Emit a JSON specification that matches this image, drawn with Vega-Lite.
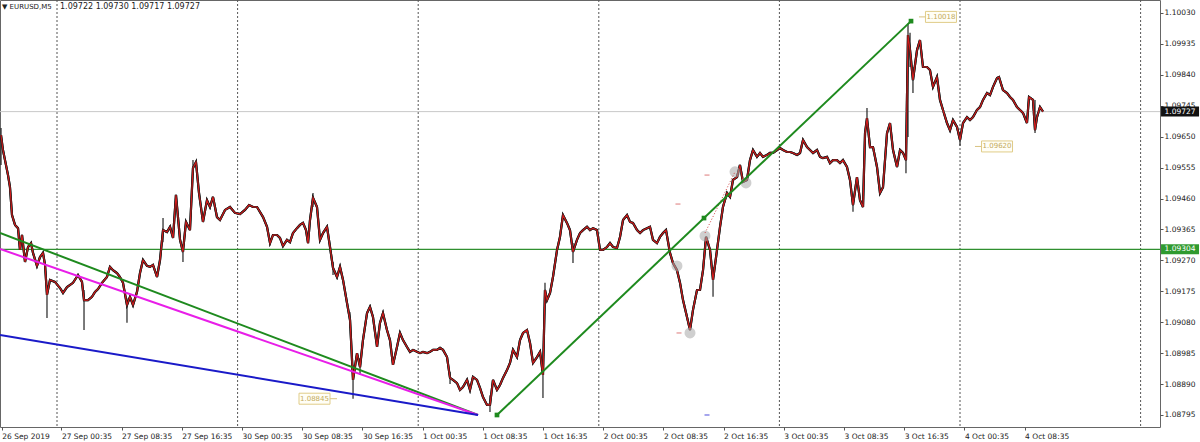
{
 "$schema": "https://vega.github.io/schema/vega-lite/v6.json",
 "width": 1160, "height": 427, "padding": {"left":0,"top":0,"right":40,"bottom":15}, "autosize": "none",
 "background": "white",
 "config": {"view": {"stroke": "#666", "strokeWidth": 1}, "font": "DejaVu Sans", "axis": {"labelOverlap": false, "labelSeparation": 0}, "axisY": {"labelOverlap": false}},
 "resolve": {"scale": {"color": "independent"}},
 "datasets": {
  "px": [
   {"h":16.56,"p":1.09655},{"h":16.82,"p":1.09609},{"h":17.09,"p":1.09578},{"h":17.49,"p":1.09532},{"h":17.75,"p":1.09495},{"h":18.02,"p":1.09409},{"h":18.42,"p":1.09379},{"h":18.82,"p":1.09369},{"h":19.08,"p":1.09302},{"h":19.35,"p":1.09348},{"h":19.75,"p":1.09265},{"h":20.15,"p":1.09311},{"h":20.55,"p":1.09323},{"h":20.81,"p":1.09293},{"h":21.34,"p":1.09253},{"h":21.74,"p":1.0928},{"h":22.14,"p":1.09293},{"h":22.41,"p":1.09256},{"h":22.67,"p":1.09164},{"h":23.07,"p":1.0921},{"h":23.73,"p":1.09204},{"h":24.4,"p":1.09185},{"h":24.8,"p":1.0917},{"h":25.33,"p":1.09188},{"h":26.13,"p":1.09201},{"h":26.79,"p":1.09225},{"h":27.32,"p":1.09204},{"h":27.59,"p":1.09148},{"h":28.12,"p":1.09148},{"h":28.65,"p":1.09158},{"h":29.05,"p":1.09173},{"h":29.45,"p":1.09182},{"h":29.98,"p":1.09201},{"h":30.64,"p":1.09219},{"h":31.04,"p":1.0925},{"h":31.44,"p":1.0924},{"h":31.97,"p":1.09231},{"h":32.37,"p":1.09219},{"h":32.77,"p":1.09201},{"h":33.3,"p":1.09133},{"h":33.7,"p":1.09158},{"h":34.1,"p":1.09133},{"h":34.63,"p":1.09173},{"h":35.03,"p":1.09231},{"h":35.43,"p":1.09271},{"h":35.96,"p":1.09253},{"h":36.36,"p":1.0925},{"h":36.76,"p":1.09256},{"h":37.29,"p":1.09219},{"h":37.69,"p":1.09271},{"h":38.09,"p":1.09363},{"h":38.62,"p":1.09357},{"h":39.02,"p":1.09373},{"h":39.42,"p":1.09339},{"h":39.81,"p":1.09471},{"h":40.35,"p":1.09333},{"h":40.74,"p":1.09296},{"h":41.14,"p":1.09388},{"h":41.67,"p":1.09363},{"h":42.07,"p":1.09554},{"h":42.47,"p":1.09572},{"h":42.87,"p":1.09477},{"h":43.4,"p":1.09388},{"h":43.93,"p":1.09455},{"h":44.33,"p":1.09434},{"h":44.73,"p":1.09465},{"h":45.26,"p":1.09403},{"h":45.66,"p":1.09394},{"h":46.33,"p":1.09425},{"h":46.99,"p":1.09434},{"h":47.65,"p":1.09416},{"h":48.32,"p":1.09412},{"h":48.98,"p":1.09425},{"h":49.52,"p":1.0944},{"h":50.05,"p":1.09434},{"h":50.58,"p":1.09434},{"h":51.38,"p":1.09403},{"h":51.91,"p":1.09373},{"h":52.31,"p":1.09323},{"h":52.7,"p":1.09348},{"h":53.24,"p":1.09348},{"h":53.63,"p":1.09339},{"h":54.03,"p":1.09314},{"h":54.56,"p":1.09333},{"h":54.96,"p":1.09326},{"h":55.36,"p":1.09354},{"h":55.89,"p":1.09369},{"h":56.29,"p":1.09379},{"h":56.69,"p":1.09385},{"h":57.09,"p":1.09363},{"h":57.36,"p":1.09323},{"h":57.62,"p":1.09394},{"h":58.02,"p":1.09462},{"h":58.55,"p":1.09434},{"h":58.95,"p":1.09333},{"h":59.35,"p":1.09354},{"h":59.88,"p":1.09373},{"h":60.28,"p":1.09311},{"h":60.68,"p":1.09247},{"h":61.21,"p":1.09219},{"h":61.61,"p":1.0925},{"h":62.01,"p":1.0921},{"h":62.54,"p":1.09139},{"h":62.94,"p":1.09087},{"h":63.34,"p":1.08903},{"h":63.87,"p":1.08985},{"h":64.27,"p":1.08942},{"h":64.66,"p":1.09025},{"h":65.2,"p":1.09108},{"h":65.59,"p":1.09127},{"h":65.99,"p":1.09096},{"h":66.53,"p":1.09004},{"h":66.92,"p":1.09078},{"h":67.32,"p":1.09108},{"h":67.85,"p":1.09056},{"h":68.25,"p":1.09025},{"h":68.65,"p":1.08949},{"h":69.18,"p":1.09004},{"h":69.58,"p":1.09047},{"h":69.98,"p":1.09025},{"h":70.51,"p":1.09004},{"h":70.91,"p":1.08989},{"h":71.31,"p":1.08995},{"h":71.84,"p":1.08989},{"h":72.24,"p":1.08985},{"h":72.64,"p":1.08989},{"h":73.17,"p":1.08985},{"h":73.57,"p":1.08989},{"h":73.97,"p":1.08995},{"h":74.5,"p":1.08995},{"h":74.9,"p":1.09001},{"h":75.3,"p":1.08995},{"h":75.83,"p":1.08973},{"h":76.23,"p":1.08909},{"h":76.62,"p":1.08903},{"h":77.16,"p":1.08893},{"h":77.55,"p":1.08872},{"h":77.95,"p":1.08881},{"h":78.49,"p":1.08903},{"h":78.88,"p":1.08872},{"h":79.28,"p":1.08912},{"h":79.81,"p":1.08903},{"h":80.21,"p":1.08878},{"h":80.61,"p":1.0885},{"h":81.14,"p":1.08826},{"h":81.54,"p":1.08826},{"h":81.94,"p":1.08903},{"h":82.47,"p":1.08872},{"h":82.87,"p":1.08887},{"h":83.27,"p":1.08909},{"h":83.8,"p":1.08933},{"h":84.2,"p":1.08955},{"h":84.6,"p":1.08995},{"h":85.13,"p":1.08973},{"h":85.53,"p":1.09025},{"h":85.93,"p":1.09047},{"h":86.46,"p":1.09056},{"h":86.86,"p":1.09016},{"h":87.26,"p":1.08955},{"h":87.79,"p":1.08973},{"h":88.19,"p":1.08989},{"h":88.58,"p":1.08918},{"h":88.85,"p":1.09179},{"h":89.12,"p":1.09148},{"h":89.52,"p":1.0917},{"h":89.91,"p":1.09219},{"h":90.45,"p":1.09302},{"h":90.84,"p":1.09342},{"h":91.24,"p":1.09409},{"h":91.77,"p":1.09385},{"h":92.17,"p":1.09363},{"h":92.57,"p":1.09296},{"h":93.1,"p":1.09333},{"h":93.5,"p":1.09354},{"h":93.9,"p":1.09363},{"h":94.43,"p":1.09373},{"h":94.83,"p":1.09363},{"h":95.23,"p":1.09369},{"h":95.76,"p":1.09363},{"h":96.16,"p":1.09302},{"h":96.56,"p":1.09302},{"h":97.09,"p":1.09311},{"h":97.49,"p":1.09323},{"h":97.89,"p":1.09311},{"h":98.42,"p":1.09308},{"h":98.82,"p":1.09342},{"h":99.22,"p":1.09394},{"h":99.75,"p":1.09409},{"h":100.15,"p":1.09388},{"h":100.54,"p":1.09385},{"h":101.08,"p":1.09363},{"h":101.48,"p":1.09354},{"h":101.87,"p":1.09363},{"h":102.41,"p":1.09369},{"h":102.8,"p":1.09373},{"h":103.2,"p":1.09333},{"h":103.73,"p":1.09323},{"h":104.13,"p":1.09342},{"h":104.53,"p":1.09354},{"h":104.93,"p":1.09363},{"h":105.46,"p":1.09293},{"h":105.86,"p":1.09262},{"h":106.39,"p":1.0924},{"h":106.79,"p":1.09201},{"h":107.19,"p":1.09148},{"h":107.72,"p":1.09096},{"h":108.12,"p":1.09056},{"h":108.52,"p":1.09118},{"h":109.05,"p":1.09179},{"h":109.45,"p":1.09179},{"h":109.85,"p":1.0924},{"h":110.25,"p":1.09342},{"h":110.78,"p":1.09302},{"h":111.18,"p":1.0921},{"h":111.71,"p":1.09302},{"h":112.11,"p":1.09373},{"h":112.5,"p":1.09434},{"h":113.04,"p":1.09477},{"h":113.44,"p":1.09465},{"h":113.83,"p":1.09517},{"h":114.37,"p":1.09526},{"h":114.76,"p":1.09563},{"h":115.16,"p":1.09511},{"h":115.69,"p":1.09517},{"h":116.09,"p":1.09578},{"h":116.49,"p":1.09609},{"h":117.02,"p":1.09588},{"h":117.42,"p":1.096},{"h":117.82,"p":1.09588},{"h":118.35,"p":1.09594},{"h":118.75,"p":1.096},{"h":119.15,"p":1.096},{"h":119.68,"p":1.09609},{"h":120.08,"p":1.09615},{"h":120.48,"p":1.09609},{"h":121.01,"p":1.09603},{"h":121.41,"p":1.09603},{"h":121.81,"p":1.096},{"h":122.34,"p":1.09594},{"h":122.74,"p":1.096},{"h":123.14,"p":1.0964},{"h":123.67,"p":1.09618},{"h":124.07,"p":1.09609},{"h":124.47,"p":1.096},{"h":125.0,"p":1.09609},{"h":125.4,"p":1.09588},{"h":125.79,"p":1.09584},{"h":126.33,"p":1.09588},{"h":126.72,"p":1.09569},{"h":127.12,"p":1.09578},{"h":127.65,"p":1.09578},{"h":128.05,"p":1.09569},{"h":128.45,"p":1.09578},{"h":128.98,"p":1.09557},{"h":129.38,"p":1.09517},{"h":129.78,"p":1.0944},{"h":130.31,"p":1.09526},{"h":130.71,"p":1.09455},{"h":131.11,"p":1.09434},{"h":131.38,"p":1.09661},{"h":131.64,"p":1.09707},{"h":132.04,"p":1.09618},{"h":132.44,"p":1.09618},{"h":132.97,"p":1.09557},{"h":133.37,"p":1.09477},{"h":133.77,"p":1.09495},{"h":134.3,"p":1.09661},{"h":134.7,"p":1.09692},{"h":135.1,"p":1.09609},{"h":135.63,"p":1.09557},{"h":136.03,"p":1.09609},{"h":136.43,"p":1.096},{"h":136.82,"p":1.09578},{"h":137.09,"p":1.09962},{"h":137.36,"p":1.09916},{"h":137.75,"p":1.09824},{"h":138.29,"p":1.09916},{"h":138.68,"p":1.09947},{"h":139.08,"p":1.09864},{"h":139.61,"p":1.09864},{"h":140.01,"p":1.09855},{"h":140.41,"p":1.09803},{"h":140.94,"p":1.09833},{"h":141.34,"p":1.09763},{"h":141.74,"p":1.09732},{"h":142.27,"p":1.09692},{"h":142.67,"p":1.0967},{"h":143.07,"p":1.09701},{"h":143.6,"p":1.0968},{"h":144.0,"p":1.0964},{"h":144.4,"p":1.09692},{"h":144.93,"p":1.0971},{"h":145.33,"p":1.09701},{"h":145.73,"p":1.0971},{"h":146.26,"p":1.09732},{"h":146.66,"p":1.09741},{"h":147.06,"p":1.09763},{"h":147.59,"p":1.09784},{"h":147.99,"p":1.09778},{"h":148.39,"p":1.09803},{"h":148.92,"p":1.0983},{"h":149.18,"p":1.09833},{"h":149.71,"p":1.09793},{"h":150.25,"p":1.09784},{"h":150.64,"p":1.09772},{"h":151.04,"p":1.09763},{"h":151.57,"p":1.09741},{"h":151.97,"p":1.09732},{"h":152.37,"p":1.09723},{"h":152.9,"p":1.09692},{"h":153.17,"p":1.09772},{"h":153.7,"p":1.09763},{"h":153.97,"p":1.0967},{"h":154.23,"p":1.0971},{"h":154.63,"p":1.09741},{"h":155.03,"p":1.09727}
  ],
  "wk": [
   {"h":16.56,"hi":1.09677,"lo":1.09563},{"h":22.67,"hi":1.09194,"lo":1.09093},{"h":27.59,"hi":1.09179,"lo":1.09056},{"h":33.3,"hi":1.09154,"lo":1.09078},{"h":38.09,"hi":1.094,"lo":1.09326},{"h":40.74,"hi":1.09317,"lo":1.09265},{"h":42.07,"hi":1.09578,"lo":1.09532},{"h":58.02,"hi":1.09477,"lo":1.09434},{"h":60.68,"hi":1.09265,"lo":1.09225},{"h":62.94,"hi":1.09111,"lo":1.09062},{"h":63.34,"hi":1.08949,"lo":1.08845},{"h":64.27,"hi":1.0897,"lo":1.08918},{"h":76.23,"hi":1.08927,"lo":1.0889},{"h":81.54,"hi":1.08856,"lo":1.08804},{"h":88.58,"hi":1.08958,"lo":1.08847},{"h":88.85,"hi":1.09201,"lo":1.09148},{"h":92.57,"hi":1.09323,"lo":1.09262},{"h":111.18,"hi":1.0925,"lo":1.09158},{"h":129.78,"hi":1.09462,"lo":1.09419},{"h":131.64,"hi":1.09738,"lo":1.0968},{"h":136.82,"hi":1.09631,"lo":1.09538},{"h":137.09,"hi":1.09998,"lo":1.09649},{"h":137.36,"hi":1.09969,"lo":1.09864},{"h":137.75,"hi":1.09864,"lo":1.09784},{"h":144.0,"hi":1.09664,"lo":1.09622},{"h":153.97,"hi":1.09763,"lo":1.09661}
  ],
  "tl": [
   {"id":"g","h":16.43,"p":1.09354},{"id":"g","h":79.95,"p":1.08795},
   {"id":"m","h":16.43,"p":1.09305},{"id":"m","h":79.95,"p":1.08795},
   {"id":"b","h":16.43,"p":1.09041},{"id":"b","h":79.95,"p":1.08795},
   {"id":"u","h":82.47,"p":1.08795},{"id":"u","h":137.49,"p":1.10005}
  ],
  "sq": [{"h":82.47,"p":1.08795},{"h":109.98,"p":1.094},{"h":137.49,"p":1.10005}],
  "grid": [{"h":24},{"h":48},{"h":72},{"h":96},{"h":120},{"h":144},{"h":168}],
  "lab": [
   {"h":58.22,"p":1.08845,"t":"1.08845","h1":60.28,"h2":61.21},
   {"h":141.47,"p":1.10018,"t":"1.10018","h1":138.55,"h2":139.48},
   {"h":148.92,"p":1.0962,"t":"1.09620","h1":145.99,"h2":146.92}
  ],
  "circ": [{"h":106.39,"p":1.09253},{"h":110.11,"p":1.09345},{"h":108.12,"p":1.09047},{"h":114.1,"p":1.09542},{"h":115.56,"p":1.09508}],
  "dash": [{"h":106.52,"p":1.09443,"k":"r"},{"h":110.38,"p":1.09532,"k":"r"},{"h":106.66,"p":1.09047,"k":"r"},{"h":110.38,"p":1.08795,"k":"b"}],
  "dot": [{"h":110.11,"p":1.09354},{"h":114.1,"p":1.09542}],
  "one": [{}]
 },
 "layer": [
  {"data":{"name":"px"},"mark":{"type":"line","color":"#1a1a1a","strokeWidth":2.2,"clip":true},
   "encoding":{
    "x":{"field":"h","type":"quantitative","scale":{"domain":[16.4252,170.578],"nice":false,"zero":false},
     "axis":{"title":null,"values":[16.667,24.583,32.583,40.583,48.583,56.583,64.583,72.583,80.583,88.583,96.583,104.583,112.583,120.583,128.583,136.583,144.583,152.583],
      "labelExpr":"datum.value < 20 ? '26 Sep 2019' : ['27 Sep 00:35','27 Sep 08:35','27 Sep 16:35','30 Sep 00:35','30 Sep 08:35','30 Sep 16:35','1 Oct 00:35','1 Oct 08:35','1 Oct 16:35','2 Oct 00:35','2 Oct 08:35','2 Oct 16:35','3 Oct 00:35','3 Oct 08:35','3 Oct 16:35','4 Oct 00:35','4 Oct 08:35'][round((datum.value - 24.583) / 8)]",
      "labelAlign":"left","labelBaseline":"top","labelPadding":2,"tickSize":3,"tickColor":"#555","domain":false,"grid":false,"labelFontSize":7.5,"labelColor":"#222","labelFont":"DejaVu Sans","labelOverlap":false,"labelFlush":false,"labelBound":false,"zindex":0}},
    "y":{"field":"p","type":"quantitative","scale":{"domain":[1.087581,1.100699],"nice":false,"zero":false},
     "axis":{"title":null,"orient":"right","values":[1.08795,1.0889,1.08985,1.0908,1.09175,1.0927,1.09365,1.0946,1.09555,1.0965,1.09745,1.0984,1.09935,1.1003],"format":".5f","tickCount":14,
      "labelAlign":"left","labelBaseline":"middle","labelPadding":1,"tickSize":3,"tickColor":"#555","domain":false,"grid":false,"labelFontSize":7.5,"labelColor":"#222","labelFont":"DejaVu Sans","labelOverlap":false,"labelFlush":false,"labelBound":false,"zindex":0}}
   }},
  {"data":{"name":"grid"},"mark":{"type":"rule","color":"#555","strokeDash":[2,2],"strokeWidth":1},
   "encoding":{"x":{"field":"h","type":"quantitative"}}},
  {"data":{"name":"one"},"mark":{"type":"rule","color":"#c8c8c8","strokeWidth":1},"encoding":{"y":{"datum":1.09727,"type":"quantitative"}}},
  {"data":{"name":"one"},"mark":{"type":"rule","color":"#2f8f2f","strokeWidth":1.3},"encoding":{"y":{"datum":1.09304,"type":"quantitative"}}},
  {"data":{"name":"px"},"mark":{"type":"line","color":"#1a1a1a","strokeWidth":2.2,"clip":true},
   "encoding":{"x":{"field":"h","type":"quantitative"},"y":{"field":"p","type":"quantitative"}}},
  {"data":{"name":"wk"},"mark":{"type":"rule","color":"#222","strokeWidth":1.2,"clip":true},
   "encoding":{"x":{"field":"h","type":"quantitative"},"y":{"field":"hi","type":"quantitative"},"y2":{"field":"lo"}}},
  {"data":{"name":"px"},"mark":{"type":"line","color":"#d41a1a","strokeWidth":1.1,"clip":true},
   "encoding":{"x":{"field":"h","type":"quantitative"},"y":{"field":"p","type":"quantitative"}}},
  {"data":{"name":"circ"},"mark":{"type":"point","filled":true,"color":"#a8a8a8","opacity":0.55,"size":120},
   "encoding":{"x":{"field":"h","type":"quantitative"},"y":{"field":"p","type":"quantitative"}}},
  {"data":{"name":"dot"},"mark":{"type":"line","color":"#d04040","strokeWidth":1,"strokeDash":[1,2]},
   "encoding":{"x":{"field":"h","type":"quantitative"},"y":{"field":"p","type":"quantitative"}}},
  {"data":{"name":"dash"},"mark":{"type":"tick","orient":"horizontal","size":5,"thickness":1.5},
   "encoding":{"x":{"field":"h","type":"quantitative"},"y":{"field":"p","type":"quantitative"},
    "color":{"field":"k","type":"nominal","scale":{"domain":["r","b"],"range":["#e08080","#5555dd"]},"legend":null}}},
  {"data":{"name":"tl"},"mark":{"type":"line","strokeWidth":2,"clip":true},
   "encoding":{"x":{"field":"h","type":"quantitative"},"y":{"field":"p","type":"quantitative"},"detail":{"field":"id"},
    "stroke":{"field":"id","type":"nominal","scale":{"domain":["g","m","b","u"],"range":["#1e8a1e","#e81ee8","#1a1ac8","#1e8a1e"]},"legend":null}}},
  {"data":{"name":"sq"},"mark":{"type":"point","shape":"square","filled":true,"color":"#1e8a1e","size":22,"opacity":1},
   "encoding":{"x":{"field":"h","type":"quantitative"},"y":{"field":"p","type":"quantitative"}}},
  {"data":{"name":"lab"},"mark":{"type":"rule","color":"#d8c280","strokeWidth":1},
   "encoding":{"x":{"field":"h1","type":"quantitative"},"x2":{"field":"h2"},"y":{"field":"p","type":"quantitative"}}},
  {"data":{"name":"lab"},"mark":{"type":"tick","orient":"horizontal","size":31,"thickness":11,"fill":"#fffef6","stroke":"#e0cc88","strokeWidth":1,"opacity":1},
   "encoding":{"x":{"field":"h","type":"quantitative"},"y":{"field":"p","type":"quantitative"}}},
  {"data":{"name":"lab"},"mark":{"type":"text","align":"center","baseline":"middle","fontSize":7,"color":"#c4ab5c","font":"DejaVu Sans"},
   "encoding":{"x":{"field":"h","type":"quantitative"},"y":{"field":"p","type":"quantitative"},"text":{"field":"t"}}},
  {"data":{"name":"one"},"mark":{"type":"tick","orient":"horizontal","size":38,"thickness":10,"color":"#111","opacity":1},
   "encoding":{"x":{"datum":173.24,"type":"quantitative"},"y":{"datum":1.09727,"type":"quantitative"}}},
  {"data":{"name":"one"},"mark":{"type":"tick","orient":"horizontal","size":38,"thickness":10,"color":"#2f9a2f","opacity":1},
   "encoding":{"x":{"datum":173.24,"type":"quantitative"},"y":{"datum":1.09304,"type":"quantitative"}}},
  {"data":{"name":"one"},"mark":{"type":"text","text":"1.09727","align":"center","baseline":"middle","fontSize":7.5,"color":"white","font":"DejaVu Sans"},
   "encoding":{"x":{"datum":173.24,"type":"quantitative"},"y":{"datum":1.09727,"type":"quantitative"}}},
  {"data":{"name":"one"},"mark":{"type":"text","text":"1.09304","align":"center","baseline":"middle","fontSize":7.5,"color":"white","font":"DejaVu Sans"},
   "encoding":{"x":{"datum":173.24,"type":"quantitative"},"y":{"datum":1.09304,"type":"quantitative"}}},
  {"data":{"name":"one"},"mark":{"type":"text","text":"▼ EURUSD,M5","align":"left","baseline":"middle","fontSize":7,"color":"#222","font":"DejaVu Sans"},
   "encoding":{"x":{"datum":16.69,"type":"quantitative"},"y":{"datum":1.10048,"type":"quantitative"}}},
  {"data":{"name":"one"},"mark":{"type":"text","text":"1.09722 1.09730 1.09717 1.09727","align":"left","baseline":"middle","fontSize":8,"color":"#222","font":"DejaVu Sans"},
   "encoding":{"x":{"datum":24.4,"type":"quantitative"},"y":{"datum":1.10048,"type":"quantitative"}}}
 ]
}
